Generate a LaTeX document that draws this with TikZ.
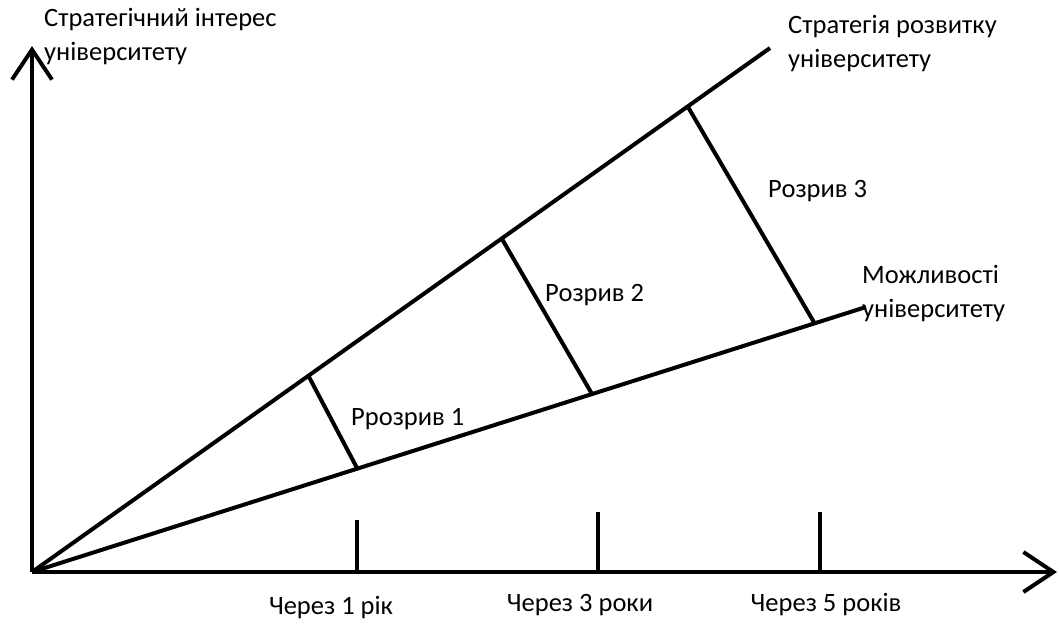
\documentclass[tikz,border=0pt]{standalone}
\usepackage{fontspec}
\setmainfont{Carlito}
\usetikzlibrary{arrows.meta}
\begin{document}
\begin{tikzpicture}[x=1pt,y=-1pt,
  ln/.style={line width=4pt},
  tk/.style={line width=3.5pt},
  ax/.style={line width=4pt,-{Straight Barb[length=30pt,width=40pt,line width=4pt]}},
  lbl/.style={font=\fontsize{26.5}{34}\selectfont,inner sep=0pt,align=left}]
\useasboundingbox (0,0) rectangle (1059,630);
\coordinate (O) at (32,572);
\coordinate (ytop) at (32,46);
\coordinate (xend) at (1057,572);
\coordinate (U) at (770,48);
\coordinate (L) at (866,307);
\draw[ax] (O) -- (ytop);
\draw[ax] (O) -- (xend);
\draw[ln] (O) -- (U);
\draw[ln] (O) -- (L);
% gaps
\coordinate (g1a) at (308,375);
\coordinate (g1b) at (357,468);
\coordinate (g2a) at (502,239);
\coordinate (g2b) at (592,394);
\coordinate (g3a) at (688,107);
\coordinate (g3b) at (815,324);
\draw[ln] (g1a) -- (g1b);
\draw[ln] (g2a) -- (g2b);
\draw[ln] (g3a) -- (g3b);
% ticks
\coordinate (t1) at (357,520);
\coordinate (t1b) at (357,572);
\coordinate (t3) at (598,512);
\coordinate (t3b) at (598,572);
\coordinate (t5) at (820,512);
\coordinate (t5b) at (820,572);
\draw[tk] (t1) -- (t1b);
\draw[tk] (t3) -- (t3b);
\draw[tk] (t5) -- (t5b);
% labels
\node[lbl,anchor=north west] (ylab) at (44,8) {Стратегічний інтерес\\університету};
\node[lbl,anchor=north west] (ulab) at (788,15) {Стратегія розвитку\\університету};
\node[lbl,anchor=north west] (llab) at (862,265) {Можливості\\університету};
\node[lbl,anchor=base west] (r1) at (351,425) {Ррозрив 1};
\node[lbl,anchor=base west] (r2) at (545,301) {Розрив 2};
\node[lbl,anchor=base west] (r3) at (768,197) {Розрив 3};
\node[lbl,anchor=base] (c1) at (331,614) {Через 1 рік};
\node[lbl,anchor=base] (c3) at (580,611) {Через 3 роки};
\node[lbl,anchor=base] (c5) at (826,611) {Через 5 років};
\end{tikzpicture}
\end{document}
